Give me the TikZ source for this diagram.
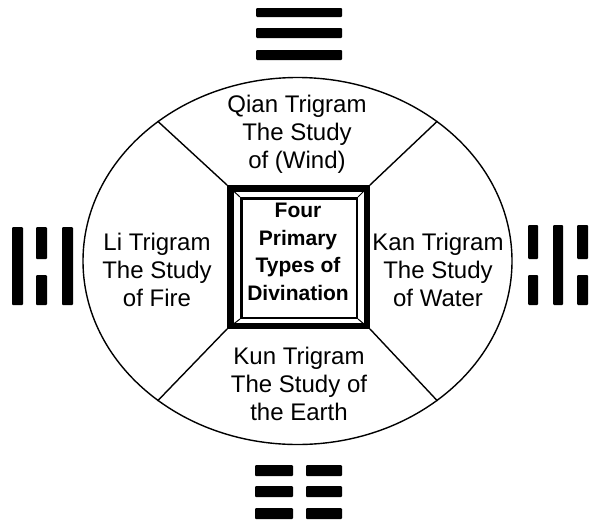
\documentclass[tikz,border=0pt]{standalone}
\usepackage{fontspec}
\setmainfont{Liberation Sans}
\usetikzlibrary{shapes.geometric}
\begin{document}
\begin{tikzpicture}[x=1pt,y=-1pt,
  lbl/.style={align=center,font=\fontsize{24}{28}\selectfont,inner sep=0pt},
  ctr/.style={align=center,font=\bfseries\fontsize{21}{27.5}\selectfont,inner sep=0pt},
  bar/.style={fill=black,rounded corners=1pt},
  thinline/.style={line width=1.4pt}]
\useasboundingbox (0,0) rectangle (594,522);
% ellipse
\node[ellipse,draw,thinline,minimum width=429pt,minimum height=367pt,inner sep=0pt] (E) at (297.5,261) {};
% central framed square
\node[draw,line width=6.5pt,minimum width=136.5pt,minimum height=137.5pt,inner sep=0pt] (SQ) at (298.5,257) {};
\node[draw,line width=2.5pt,minimum width=115.5pt,minimum height=119.5pt,inner sep=0pt] (IN) at (299,258) {};
\node[ctr] (T) at (298,252) {Four\\Primary\\Types of\\Divination};
\draw[line width=1pt] (SQ.north west) -- (IN.north west);
\draw[line width=1pt] (SQ.north east) -- (IN.north east);
\draw[line width=1pt] (SQ.south west) -- (IN.south west);
\draw[line width=1pt] (SQ.south east) -- (IN.south east);
% dividers
\draw[thinline] (SQ.north west) -- (E.135);
\draw[thinline] (SQ.north east) -- (E.45);
\draw[thinline] (SQ.south west) -- (E.225);
\draw[thinline] (SQ.south east) -- (E.315);
% labels
\node[lbl] (Q) at (297,134) {Qian Trigram\\The Study\\of (Wind)};
\node[lbl] (L) at (157,270) {Li Trigram\\The Study\\of Fire};
\node[lbl] (K) at (438,270) {Kan Trigram\\The Study\\of Water};
\node[lbl] (U) at (299,384) {Kun Trigram\\The Study of\\the Earth};
% Qian trigram (top)
\fill[bar] (256,8) rectangle (342,17);
\fill[bar] (256,28) rectangle (342,38);
\fill[bar] (256,50) rectangle (342,60);
% Li trigram (left)
\fill[bar] (12,227) rectangle (23,305);
\fill[bar] (36,227) rectangle (47,259);
\fill[bar] (36,275) rectangle (47,305);
\fill[bar] (62,227) rectangle (73,305);
% Kan trigram (right)
\fill[bar] (528,225) rectangle (538,259);
\fill[bar] (528,275) rectangle (538,305);
\fill[bar] (553,225) rectangle (563,305);
\fill[bar] (577,225) rectangle (588,259);
\fill[bar] (577,275) rectangle (588,305);
% Kun trigram (bottom)
\fill[bar] (255,465) rectangle (293,476);
\fill[bar] (306,465) rectangle (342,476);
\fill[bar] (255,486) rectangle (293,497);
\fill[bar] (306,486) rectangle (342,497);
\fill[bar] (255,508) rectangle (293,519);
\fill[bar] (306,508) rectangle (342,519);
\end{tikzpicture}
\end{document}
